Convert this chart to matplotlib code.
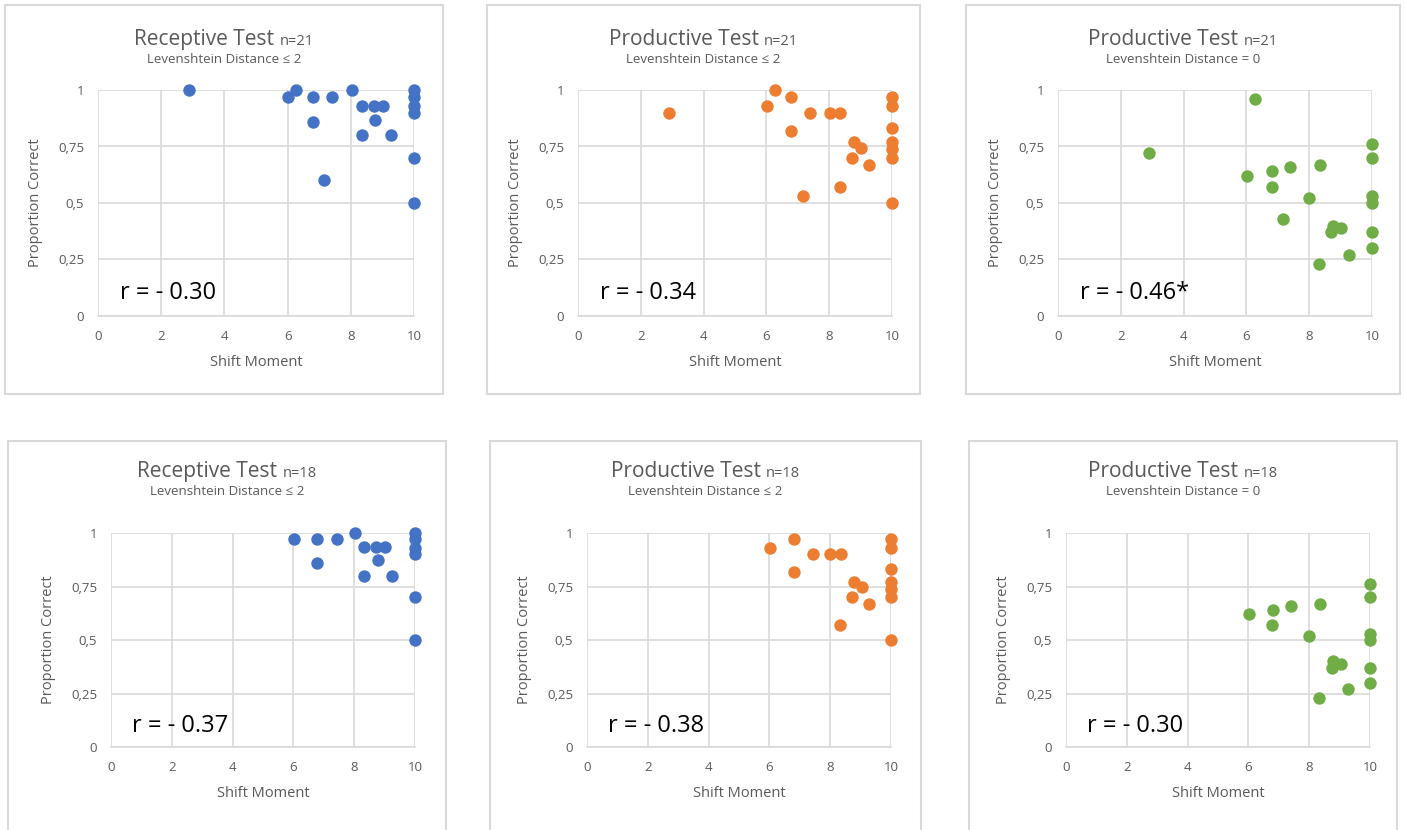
import matplotlib
matplotlib.use("Agg")
import matplotlib.pyplot as plt
from matplotlib.patches import Rectangle

# Data (shift moment vs proportion correct)
rec21_x = [2.88, 6.26, 6.0, 6.81, 7.40, 8.03, 8.36, 8.72, 9.01, 6.81, 8.78, 8.34, 9.27, 7.15,
           10, 10, 10, 10, 10, 10]
rec21_y = [1.0, 1.0, 0.97, 0.97, 0.97, 1.0, 0.93, 0.93, 0.93, 0.857, 0.869, 0.80, 0.80, 0.60,
           1.0, 0.97, 0.93, 0.90, 0.70, 0.50]

prod21_x = [2.89, 6.27, 6.79, 6.02, 7.39, 8.02, 8.35, 6.79, 8.79, 9.01, 8.72, 9.28, 8.33, 7.17,
            10, 10, 10, 10, 10, 10, 10]
prod21_y = [0.897, 1.0, 0.97, 0.93, 0.897, 0.897, 0.897, 0.82, 0.77, 0.745, 0.70, 0.667, 0.57, 0.53,
            0.97, 0.93, 0.83, 0.77, 0.74, 0.70, 0.50]

exact21_x = [6.26, 2.89, 10, 10, 6.02, 6.80, 7.40, 8.33, 6.80, 8.0, 10, 10, 7.17, 8.77, 9.0,
             8.70, 10, 10, 9.26, 8.30]
exact21_y = [0.96, 0.72, 0.76, 0.70, 0.62, 0.64, 0.66, 0.67, 0.57, 0.52, 0.53, 0.50, 0.43, 0.40, 0.39,
             0.37, 0.37, 0.30, 0.27, 0.23]

rec18_x = [6.02, 6.79, 7.42, 8.02, 8.33, 8.72, 9.01, 6.79, 8.77, 8.31, 9.25, 10, 10, 10, 10, 10, 10]
rec18_y = [0.97, 0.97, 0.97, 1.0, 0.933, 0.933, 0.933, 0.862, 0.873, 0.80, 0.80,
           1.0, 0.97, 0.93, 0.90, 0.70, 0.50]

prod18_x = [6.01, 6.82, 7.42, 8.0, 8.35, 6.82, 8.79, 9.04, 8.73, 9.27, 8.31, 10, 10, 10, 10, 10, 10, 10]
prod18_y = [0.93, 0.97, 0.90, 0.90, 0.90, 0.82, 0.77, 0.75, 0.70, 0.67, 0.57,
            0.97, 0.93, 0.83, 0.77, 0.74, 0.70, 0.50]

exact18_x = [10, 10, 6.02, 6.82, 7.40, 8.36, 6.79, 7.99, 10, 10, 8.79, 9.04, 8.74, 10, 10, 9.28, 8.33]
exact18_y = [0.76, 0.70, 0.62, 0.64, 0.66, 0.67, 0.57, 0.52, 0.53, 0.50, 0.40, 0.39, 0.37,
             0.37, 0.30, 0.27, 0.23]

titles = ["Receptive Test", "Productive Test", "Productive Test",
          "Receptive Test", "Productive Test", "Productive Test"]
ns = ["n=21", "n=21", "n=21", "n=18", "n=18", "n=18"]
subtitles = ["Levenshtein Distance \u2264 2", "Levenshtein Distance \u2264 2", "Levenshtein Distance = 0",
             "Levenshtein Distance \u2264 2", "Levenshtein Distance \u2264 2", "Levenshtein Distance = 0"]
r_labels = ["r = - 0.30", "r = - 0.34", "r = - 0.46*", "r = - 0.37", "r = - 0.38", "r = - 0.30"]
xs = [rec21_x, prod21_x, exact21_x, rec18_x, prod18_x, exact18_x]
ys = [rec21_y, prod21_y, exact21_y, rec18_y, prod18_y, exact18_y]
colors = ["#4472C4", "#ED7D31", "#70AD47", "#4472C4", "#ED7D31", "#70AD47"]

x_ticks = [0, 2, 4, 6, 8, 10]
y_ticks = [0, 0.25, 0.5, 0.75, 1]
y_ticklabels = ["0", "0,25", "0,5", "0,75", "1"]

plt.rcParams["font.family"] = ["Open Sans", "DejaVu Sans"]

W, H = 1405, 830
fig = plt.figure(figsize=(W / 100, H / 100), dpi=100)
fig.patch.set_facecolor("white")

# panel boxes (left, top, right, bottom) and plot areas in pixels
boxes = [(5, 5, 443, 394), (487, 5, 920, 394), (966, 5, 1400, 394),
         (8, 441, 446, 835), (490, 441, 921, 835), (969, 441, 1397, 835)]
plots = [(98, 90, 414, 316), (578, 90, 892, 316), (1058, 90, 1372, 316),
         (111, 533, 415, 747), (587, 533, 891, 747), (1066, 533, 1370, 747)]
title_y = [45, 45, 45, 477, 477, 477]

grey = "#595959"
renderer = fig.canvas.get_renderer()

for i in range(6):
    bl, bt, br, bb = boxes[i]
    fig.patches.append(Rectangle((bl / W, 1 - bb / H), (br - bl) / W, (bb - bt) / H,
                                 transform=fig.transFigure, fill=False,
                                 edgecolor="#d9d9d9", linewidth=1.5))

    l, t, r, b = plots[i]
    ax = fig.add_axes([l / W, 1 - b / H, (r - l) / W, (b - t) / H])
    ax.set_xlim(0, 10)
    ax.set_ylim(0, 1)
    ax.set_xticks(x_ticks)
    ax.set_yticks(y_ticks)
    ax.set_yticklabels(y_ticklabels)
    ax.tick_params(length=0, colors=grey, labelsize=9.5, pad=10)
    ax.grid(True, color="#d9d9d9", linewidth=1.2)
    ax.set_axisbelow(True)
    for s in ax.spines.values():
        s.set_visible(False)
    ax.spines["bottom"].set_visible(True)
    ax.spines["bottom"].set_color("#d9d9d9")
    ax.spines["bottom"].set_linewidth(1.2)

    ax.scatter(xs[i], ys[i], s=80, color=colors[i], clip_on=False, zorder=3, linewidths=0)

    ax.set_xlabel("Shift Moment", fontsize=10.5, color=grey, labelpad=9)
    ax.set_ylabel("Proportion Correct", fontsize=10.5, color=grey, labelpad=11)
    ax.text(0.07, 0.1, r_labels[i], transform=ax.transAxes, fontsize=17,
            color="black", ha="left", va="center")

    # centred title with a smaller "n=" suffix
    cx = (bl + br) / 2 / W
    ty = 1 - title_y[i] / H
    t1 = fig.text(cx, ty, titles[i] + " ", fontsize=15, color=grey, ha="left", va="baseline")
    t2 = fig.text(cx, ty, ns[i], fontsize=10.5, color=grey, ha="left", va="baseline")
    w1 = t1.get_window_extent(renderer).width / W
    w2 = t2.get_window_extent(renderer).width / W
    start = cx - (w1 + w2) / 2
    t1.set_x(start)
    t2.set_x(start + w1)
    fig.text(cx, 1 - (title_y[i] + 18) / H, subtitles[i], fontsize=9.5, color=grey,
             ha="center", va="baseline")

fig.savefig("out.png", dpi=100, facecolor="white")
